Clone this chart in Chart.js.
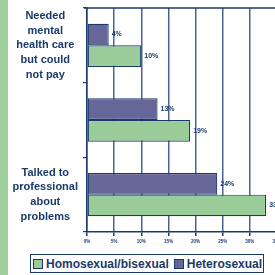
<!DOCTYPE html>
<html>
<head>
<meta charset="utf-8">
<script src="https://cdn.jsdelivr.net/npm/chart.js@4"></script>
<style>
  html, body { margin: 0; padding: 0; background: #fff; }
  body { width: 275px; height: 275px; overflow: hidden; position: relative; font-family: "Liberation Sans", Arial, sans-serif; }
  #strip { position: absolute; left: 0; top: 0; width: 8px; height: 275px; background: #9fcf9c; }
  #wrap { position: absolute; left: 0; top: 0; width: 300px; height: 250px; }
  #legend {
    position: absolute; left: 30px; top: 254px; width: 232px; height: 17px;
    border: 1.5px solid #1a3a6b; display: flex; align-items: center;
    font-weight: bold; font-size: 12px; color: #1a3a6b; white-space: nowrap;
  }
  .sw { width: 8px; height: 8px; border: 1px solid #1a3a6b; margin: 0 3px 0 2px; }
  .item { display: flex; align-items: center; margin-right: 3px; }
</style>
</head>
<body>
<div id="strip"></div>
<div id="wrap"><canvas id="myChart" width="300" height="250"></canvas></div>
<div id="legend"></div>
<script>
// chart data
const categories = [
  ["Needed", "mental", "health care", "but could", "not pay"],
  "",
  ["Talked to", "professional", "about", "problems"],
];
const heteroValues = [4, 13, 24];
const homoValues = [10, 19, 33];
const xTicks = [0, 5, 10, 15, 20, 25, 30, 35];

const navy = "#1a3a6b";

// draws the % label next to each bar and the line across the top
const barLabels = {
  id: "barLabels",
  afterDatasetsDraw(chart) {
    const ctx = chart.ctx;
    ctx.save();
    ctx.font = "bold 7px 'Liberation Sans', Arial, sans-serif";
    ctx.fillStyle = navy;
    ctx.textAlign = "left";
    ctx.textBaseline = "middle";
    chart.data.datasets.forEach((ds, i) => {
      chart.getDatasetMeta(i).data.forEach((bar, j) => {
        ctx.fillText(ds.data[j] + "%", bar.x + 3, bar.y);
      });
    });
    const a = chart.chartArea;
    ctx.strokeStyle = navy;
    ctx.lineWidth = 1.5;
    ctx.beginPath();
    ctx.moveTo(a.left - 3, a.top);
    ctx.lineTo(a.right, a.top);
    ctx.stroke();
    ctx.restore();
  },
};

const chart = new Chart("myChart", {
  type: "bar",
  data: {
    labels: categories,
    datasets: [
      {
        label: "Heterosexual",
        data: heteroValues,
        backgroundColor: "#666699",
        borderColor: navy,
        borderWidth: 1.2,
        borderSkipped: false,
        categoryPercentage: 0.58,
        barPercentage: 1,
      },
      {
        label: "Homosexual/bisexual",
        data: homoValues,
        backgroundColor: "#99cc99",
        borderColor: navy,
        borderWidth: 1.2,
        borderSkipped: false,
        categoryPercentage: 0.58,
        barPercentage: 1,
      },
    ],
  },
  options: {
    indexAxis: "y",
    responsive: false,
    animation: false,
    layout: { padding: { left: 0, top: 8, right: 23, bottom: 0 } },
    plugins: { legend: { display: false }, tooltip: { enabled: false } },
    scales: {
      x: {
        min: 0,
        max: 35,
        afterBuildTicks: (scale) => {
          scale.ticks = xTicks.map((v) => ({ value: v }));
        },
        afterFit: (scale) => { scale.height = 18; },
        border: { color: navy, width: 1.5 },
        grid: { color: "#4a6492", lineWidth: 1.5, tickLength: 4, tickColor: navy },
        ticks: {
          padding: 3,
          color: navy,
          font: { size: 4.5, weight: "bold", family: "'Liberation Sans', Arial, sans-serif" },
          callback: (v) => v + "%",
        },
      },
      y: {
        offset: true,
        afterFit: (scale) => {
          scale.width = 87;
          scale.paddingTop = 0;
          scale.paddingBottom = 0;
        },
        border: { color: navy, width: 1.5 },
        grid: { offset: true, drawOnChartArea: false, tickLength: 4, color: navy, lineWidth: 1.2 },
        ticks: {
          autoSkip: false,
          padding: 5,
          crossAlign: "center",
          color: navy,
          font: { size: 11, weight: "bold", family: "'Liberation Sans', Arial, sans-serif", lineHeight: 1.33 },
        },
      },
    },
  },
  plugins: [barLabels],
});

// html legend, homosexual first like the original
const legend = document.getElementById("legend");
chart.data.datasets.slice().reverse().forEach((ds) => {
  const item = document.createElement("span");
  item.className = "item";
  const sw = document.createElement("span");
  sw.className = "sw";
  sw.style.background = ds.backgroundColor;
  item.appendChild(sw);
  item.appendChild(document.createTextNode(ds.label));
  legend.appendChild(item);
});
</script>
</body>
</html>
